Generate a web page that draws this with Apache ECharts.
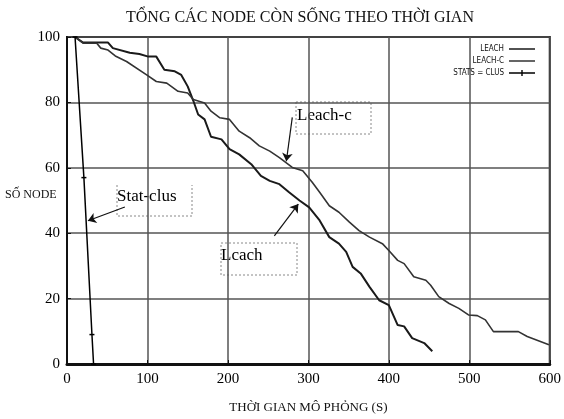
<!DOCTYPE html>
<html lang="vi">
<head>
  <meta charset="UTF-8">
  <title>Tổng các node còn sống</title>
  <style>
    html, body { margin: 0; padding: 0; background: #fff; }
  </style>
</head>
<body>
  <div id="main" style="width:564px;height:419px;"></div>

  <script src="https://cdn.jsdelivr.net/npm/echarts@6/dist/echarts.min.js"></script>
  <script>
    // so lieu doc tu hinh goc
    const xTicks = [0, 100, 200, 300, 400, 500, 600]
    const yTicks = [0, 20, 40, 60, 80, 100]

    const leachTime = [10, 20, 51, 57, 78, 90, 101, 111, 121, 134, 142, 150, 157, 163, 171, 179, 192, 202, 214, 229, 241, 252, 264, 276, 289, 301, 314, 326, 338, 347, 355, 365, 376, 388, 400, 411, 419, 429, 444, 454]
    const leachNodes = [100, 98.3, 98.3, 96.6, 95.2, 94.8, 94, 94, 90, 89.5, 88.4, 84.9, 80.5, 76.3, 74.8, 69.5, 68.7, 65.7, 64.1, 61.1, 57.5, 56, 55, 52.5, 50, 47.9, 43.9, 38.8, 36.8, 34.3, 29.7, 27.7, 23.6, 19.5, 18, 11.9, 11.5, 7.9, 6.4, 3.9]

    const leachCTime = [10, 20, 37, 42, 51, 60, 74, 99, 111, 124, 138, 150, 157, 171, 179, 190, 202, 214, 227, 239, 252, 264, 280, 293, 305, 314, 326, 338, 351, 363, 376, 392, 400, 411, 419, 431, 446, 452, 462, 475, 487, 499, 510, 520, 530, 561, 572, 599]
    const leachCNodes = [100, 98.1, 98.1, 96.6, 96, 94.2, 92.5, 88.4, 86.4, 85.9, 83.4, 82.9, 80.9, 79.8, 77.3, 75.3, 74.8, 71.2, 69.2, 66.7, 65.1, 63.1, 60.1, 59.1, 55.5, 52.5, 48.4, 46.4, 43.4, 40.8, 38.8, 36.8, 34.7, 31.7, 30.7, 26.7, 25.6, 24.1, 20.6, 18.5, 17, 15, 14.8, 13.5, 9.9, 9.9, 8.4, 5.9]

    const statTime = [10, 21, 31, 33]
    const statNodes = [100, 57, 9, 0]

    const seriesNames = ['LEACH', 'LEACH-C', 'STATS = CLUS']

    const zip = (xs, ys) => xs.map((x, i) => [x, ys[i]])

    // icon chu giai: duong ngang mong, hai cham nho o goc de giu khung 26x8
    const frame = 'M0,0h0.05v0.05h-0.05z M25.95,7.95h0.05v0.05h-0.05z '
    const lineIcon = 'path://' + frame + 'M0,3.3h26v1.4h-26z'
    const tickIcon = 'path://' + frame + 'M0,3.3h26v1.4h-26z M12.3,1h1.4v6h-1.4z'

    const serif = 'Liberation Serif'
    const chart = echarts.init(document.getElementById('main'))

    const option = {
      animation: false,
      title: {
        text: 'TỔNG CÁC NODE CÒN SỐNG THEO THỜI GIAN',
        left: 121,
        top: 5,
        textStyle: { fontFamily: serif, fontSize: 16, fontWeight: 'normal', color: '#111' }
      },
      legend: {
        data: [
          { name: seriesNames[0], icon: lineIcon },
          { name: seriesNames[1], icon: lineIcon },
          { name: seriesNames[2], icon: tickIcon }
        ],
        orient: 'vertical',
        right: 24,
        top: 40,
        align: 'right',
        itemWidth: 26,
        itemHeight: 8,
        itemGap: 4,
        textStyle: { fontFamily: 'DejaVu Sans Condensed', fontSize: 8, color: '#111' }
      },
      grid: {
        left: 67,
        right: 13,
        top: 37,
        bottom: 53,
        show: true,
        borderColor: '#111',
        borderWidth: 2
      },
      xAxis: {
        type: 'value',
        min: xTicks[0],
        max: xTicks[xTicks.length - 1],
        interval: 100,
        name: 'THỜI GIAN MÔ PHỎNG (S)',
        nameLocation: 'middle',
        nameGap: 37,
        nameTextStyle: { fontFamily: serif, fontSize: 13, color: '#111' },
        axisLine: { show: true, lineStyle: { color: '#111', width: 3 } },
        axisTick: { show: true, inside: true, length: 4, lineStyle: { color: '#111' } },
        axisLabel: { fontFamily: serif, fontSize: 15, color: '#000', margin: 8 },
        splitLine: { show: true, lineStyle: { color: '#555', width: 1.5 } }
      },
      yAxis: {
        type: 'value',
        min: yTicks[0],
        max: yTicks[yTicks.length - 1],
        interval: 20,
        axisLine: { show: true, lineStyle: { color: '#111', width: 2 } },
        axisTick: { show: true, inside: true, length: 4, lineStyle: { color: '#111' } },
        axisLabel: { fontFamily: serif, fontSize: 15, color: '#000', margin: 7 },
        splitLine: { show: true, lineStyle: { color: '#555', width: 1.5 } }
      },
      series: [
        {
          name: seriesNames[0],
          type: 'line',
          data: zip(leachTime, leachNodes),
          showSymbol: false,
          symbol: 'none',
          color: '#1a1a1a',
          lineStyle: { width: 2, color: '#1a1a1a' },
          markLine: {
            silent: true,
            symbol: ['none', 'arrow'],
            symbolSize: 8,
            label: { show: false },
            lineStyle: { type: 'solid', color: '#111', width: 1.2 },
            data: [[{ coord: [257.7, 39.2] }, { coord: [287.5, 48.9] }]]
          }
        },
        {
          name: seriesNames[1],
          type: 'line',
          data: zip(leachCTime, leachCNodes),
          showSymbol: false,
          symbol: 'none',
          color: '#333',
          lineStyle: { width: 1.6, color: '#333' },
          markLine: {
            silent: true,
            symbol: ['none', 'arrow'],
            symbolSize: 8,
            label: { show: false },
            lineStyle: { type: 'solid', color: '#111', width: 1.2 },
            data: [[{ coord: [280, 75.4] }, { coord: [272.6, 62] }]]
          }
        },
        {
          name: seriesNames[2],
          type: 'line',
          data: zip(statTime, statNodes),
          symbol: 'rect',
          symbolSize: [5, 1.5],
          showSymbol: true,
          color: '#000',
          itemStyle: { color: '#000' },
          lineStyle: { width: 1.5, color: '#000' },
          markLine: {
            silent: true,
            symbol: ['none', 'arrow'],
            symbolSize: 8,
            label: { show: false },
            lineStyle: { type: 'solid', color: '#111', width: 1.2 },
            data: [[{ coord: [71.9, 48] }, { coord: [26, 43.8] }]]
          }
        }
      ],
      graphic: [
        // nhan truc tung
        {
          type: 'text', left: 5, top: 189,
          style: { text: 'SỐ NODE', fontFamily: serif, fontSize: 12, fill: '#111' }
        },
        // chu thich Leach-c
        {
          type: 'rect', shape: { x: 296, y: 102, width: 75, height: 32 },
          style: { fill: 'none', stroke: '#888', lineWidth: 1, lineDash: [2, 2] }
        },
        {
          type: 'text', left: 297, top: 107,
          style: { text: 'Leach-c', fontFamily: serif, fontSize: 17, fill: '#000' }
        },
        // chu thich Stat-clus
        {
          type: 'polyline', shape: { points: [[117, 185], [117, 216], [192, 216], [192, 185]] },
          style: { fill: 'none', stroke: '#888', lineWidth: 1, lineDash: [2, 2] }
        },
        {
          type: 'text', left: 117, top: 188,
          style: { text: 'Stat-clus', fontFamily: serif, fontSize: 17, fill: '#000' }
        },
        // chu thich Lcach
        {
          type: 'rect', shape: { x: 221, y: 243, width: 76, height: 32 },
          style: { fill: 'none', stroke: '#888', lineWidth: 1, lineDash: [2, 2] }
        },
        {
          type: 'text', left: 221, top: 247,
          style: { text: 'Lcach', fontFamily: serif, fontSize: 17, fill: '#000' }
        }
      ]
    }

    chart.setOption(option)
  </script>
</body>
</html>
